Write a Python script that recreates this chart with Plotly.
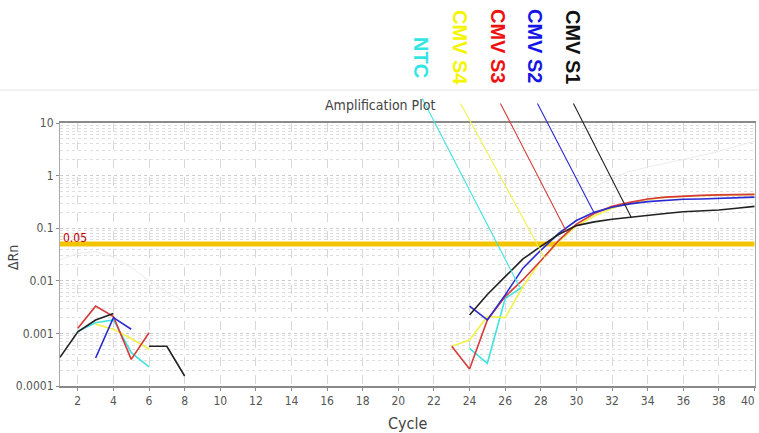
import math
import plotly.graph_objects as go

# ---------------- data ----------------
cycles = list(range(1, 41))
N = None

cmv_s1 = [0.00035, 0.00107, 0.0018, 0.0024, N, 0.00057, 0.00057, 0.000155,
          N, N, N, N, N, N, N, N, N, N, N, N, N, N, N,
          0.00224, 0.0055, 0.012, 0.026, 0.045, 0.076, 0.112, 0.132, 0.148,
          0.162, 0.178, 0.19, 0.205, 0.21, 0.222, 0.24, 0.26]

cmv_s2 = [N, N, 0.00034, 0.002, 0.0012, N, N, N,
          N, N, N, N, N, N, N, N, N, N, N, N, N, N, N,
          0.0033, 0.0018, 0.0054, 0.0174, 0.038, 0.08, 0.14, 0.2, 0.25,
          0.29, 0.32, 0.34, 0.355, 0.36, 0.37, 0.38, 0.39]

cmv_s3 = [N, 0.00125, 0.0033, 0.0021, 0.00032, 0.00103, N, N,
          N, N, N, N, N, N, N, N, N, N, N, N, N, N, 0.00057,
          0.00021, 0.0018, 0.005, 0.0105, 0.024, 0.058, 0.12, 0.19, 0.26,
          0.31, 0.36, 0.39, 0.41, 0.42, 0.43, 0.435, 0.44]

cmv_s4 = [N, N, 0.0015, 0.0012, 0.0008, 0.0005, N, N,
          N, N, N, N, N, N, N, N, N, N, N, N, N, N, 0.00057,
          0.00075, 0.0021, 0.002, 0.0078, 0.024, 0.055, 0.11, 0.17, 0.24,
          0.30, 0.35, 0.385, 0.405, 0.415, 0.425, 0.43, 0.435]

ntc = [N, 0.0011, 0.0016, 0.0018, 0.00043, 0.00023, N, N,
       N, N, N, N, N, N, N, N, N, N, N, N, N, N, N,
       0.00052, 0.00027, 0.0046, 0.0078, N, N, N, N, N,
       N, N, N, N, N, N, N, N]

# faint background wells
bg_a = [0.025, 0.033, 0.036, 0.028, 0.018, 0.01, 0.006, 0.004] + [N] * 32
bg_b = [N] * 29 + [0.35, 0.6, 0.9, 1.2, 1.45, 1.7, 2.0, 2.4, 2.9, 3.6, 4.5]

threshold = 0.05

series_names = ["NTC", "CMV S4", "CMV S3", "CMV S2", "CMV S1"]
series_values = [ntc, cmv_s4, cmv_s3, cmv_s2, cmv_s1]
line_colors = ["#3fe3e0", "#f2f24a", "#d63a3a", "#2a2ad2", "#222222"]
label_colors = ["#33e6e6", "#f5f500", "#ee1111", "#1414e6", "#111111"]

x_tick_values = list(range(2, 41, 2))
x_tick_text = [str(v) for v in x_tick_values]
last_tick_text = x_tick_text[-1]
x_tick_text[-1] = ""   # drawn separately so it stays inside the page

# leader line targets (cycle, ΔRn) and label positions (pixels)
leader_cycle = [26.81, 28.22, 29.45, 30.97, 33.10]
leader_value = [0.0076, 0.027, 0.085, 0.203, 0.156]
leader_tail_cycle = [21.30, 23.45, 25.69, 27.77, 29.79]
leader_tail_log = [1.494, 1.40, 1.40, 1.40, 1.40]
label_px_x = [421, 460, 498, 535, 573]
label_px_y = [57, 47, 46, 46, 47]

# ---------------- figure ----------------
W, H = 759, 433
L, R, T, B = 60, 4, 123, 47
PW, PH = W - L - R, H - T - B

def px_to_paper_x(px):
    return (px - L) / PW

def py_to_paper_y(py):
    return (H - B - py) / PH

narrow = ("Liberation Sans Narrow, Arial Narrow, DejaVu Sans Condensed, "
          "Liberation Sans, sans-serif")

fig = go.Figure()

for bg in (bg_a, bg_b):
    fig.add_trace(go.Scatter(x=cycles, y=bg, mode="lines",
                             line=dict(color="#ececec", width=1),
                             hoverinfo="skip", showlegend=False))

fig.add_trace(go.Scatter(x=[cycles[0], cycles[-1]], y=[threshold, threshold],
                         mode="lines", line=dict(color="#f3c500", width=5),
                         hoverinfo="skip", showlegend=False))

for name, vals, col in zip(series_names, series_values, line_colors):
    fig.add_trace(go.Scatter(x=cycles, y=vals, mode="lines", name=name,
                             line=dict(color=col, width=1.6),
                             connectgaps=False, showlegend=False))

annotations = []
for i, name in enumerate(series_names):
    annotations.append(dict(
        x=leader_cycle[i], y=math.log10(leader_value[i]), xref="x", yref="y",
        ax=leader_tail_cycle[i], ay=leader_tail_log[i], axref="x", ayref="y",
        text="", showarrow=True, arrowhead=0, arrowwidth=1.1,
        arrowcolor=line_colors[i], standoff=0, startstandoff=0))
    annotations.append(dict(
        x=px_to_paper_x(label_px_x[i]), y=py_to_paper_y(label_px_y[i]),
        xref="paper", yref="paper", text="<b>%s</b>" % name, textangle=90,
        showarrow=False, xanchor="center", yanchor="middle",
        font=dict(family="Liberation Sans, Arial, sans-serif", size=20,
                  color=label_colors[i])))

annotations += [
    dict(x=x_tick_values[-1], y=py_to_paper_y(401), xref="x", yref="paper",
         text=last_tick_text, showarrow=False, xanchor="right", xshift=3,
         yanchor="middle",
         font=dict(family=narrow, size=12, color="#555555")),
    dict(x=1.05, y=math.log10(threshold), xref="x", yref="y", text="0.05",
         showarrow=False, xanchor="left", yanchor="bottom", yshift=-3,
         font=dict(family=narrow, size=12, color="#c00000")),
    dict(x=px_to_paper_x(380), y=py_to_paper_y(105), xref="paper", yref="paper",
         text="Amplification Plot", showarrow=False,
         xanchor="center", yanchor="middle",
         font=dict(family=narrow, size=14, color="#444444")),
    dict(x=px_to_paper_x(13), y=py_to_paper_y(258), xref="paper", yref="paper",
         text="ΔRn", textangle=-90, showarrow=False,
         xanchor="center", yanchor="middle",
         font=dict(family=narrow, size=14, color="#444444")),
    dict(x=px_to_paper_x(408), y=py_to_paper_y(423), xref="paper", yref="paper",
         text="Cycle", showarrow=False,
         xanchor="center", yanchor="middle",
         font=dict(family=narrow, size=16, color="#444444")),
]

fig.update_layout(
    width=W, height=H,
    margin=dict(l=L, r=R, t=T, b=B, pad=0, autoexpand=False),
    paper_bgcolor="white", plot_bgcolor="white",
    showlegend=False,
    annotations=annotations,
    shapes=[dict(type="line", xref="paper", yref="paper",
                 x0=px_to_paper_x(0), x1=px_to_paper_x(W),
                 y0=py_to_paper_y(90), y1=py_to_paper_y(90),
                 line=dict(color="#e4e4e4", width=1))],
    xaxis=dict(range=[1, 40.03], tickmode="array",
               tickvals=x_tick_values,
               ticktext=x_tick_text,
               ticklabeloverflow="allow", automargin=False,
               showgrid=True,
               gridcolor="#d8d8d8", griddash="dash", gridwidth=1,
               showline=True, linecolor="#8a8a8a", linewidth=1.5, mirror=True,
               ticks="outside", ticklen=3, tickcolor="#8a8a8a",
               tickfont=dict(family=narrow, size=12, color="#555555"),
               zeroline=False),
    yaxis=dict(type="log", range=[-4, 1], dtick=1, exponentformat="none",
               automargin=False,
               showgrid=True, gridcolor="#cccccc", griddash="dot", gridwidth=1,
               minor=dict(dtick="D1", showgrid=True, gridcolor="#dedede",
                          griddash="dot", gridwidth=1),
               showline=True, linecolor="#aaaaaa", linewidth=1, mirror=True,
               ticks="outside", ticklen=3, tickcolor="#8a8a8a",
               tickfont=dict(family=narrow, size=12, color="#555555"),
               zeroline=False),
)

fig.write_html("out.html")
